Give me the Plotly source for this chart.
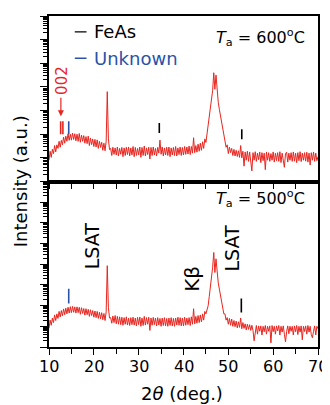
import numpy as np
import plotly.graph_objects as go

# 2-theta sampling grid (deg), 0.25 deg steps from 10 to 70
two_theta = [round(10 + 0.25 * i, 2) for i in range(241)]

# log10 intensity (a.u.), Ta = 600 C
log_i_600 = [
    0.90, 1.28, 1.02, 1.36, 1.18, 1.52, 1.25, 1.55, 1.40, 1.70, 1.45, 1.74,
    1.55, 1.88, 1.62, 1.92, 1.70, 2.02, 1.74, 2.00, 1.75, 2.05, 1.78, 2.02,
    1.72, 2.00, 1.70, 2.03, 1.66, 1.96, 1.70, 1.94, 1.62, 1.90, 1.60, 1.92,
    1.52, 1.84, 1.56, 1.80, 1.48, 1.78, 1.46, 1.76, 1.40, 1.70, 1.44, 1.66,
    1.32, 1.62, 1.30, 1.70, 3.80, 1.80, 1.35, 1.40, 1.10, 1.45, 1.15, 1.42,
    1.12, 1.46, 1.08, 1.40, 1.15, 1.44, 1.05, 1.42, 1.10, 1.45, 1.14, 1.46,
    1.08, 1.42, 1.12, 1.48, 1.05, 1.44, 1.10, 1.40, 1.12, 1.46, 1.02, 1.44,
    1.10, 1.50, 1.08, 1.42, 1.14, 1.45, 0.95, 1.44, 1.10, 1.46, 1.12, 1.40,
    1.08, 1.44, 1.20, 1.75, 1.15, 1.46, 1.08, 1.42, 1.12, 1.45, 1.10, 1.46,
    1.05, 1.42, 1.12, 1.44, 1.10, 1.48, 1.08, 1.42, 1.14, 1.46, 1.10, 1.44,
    1.12, 1.48, 1.15, 1.46, 1.16, 1.50, 1.14, 1.48, 1.20, 1.85, 1.22, 1.52,
    1.24, 1.58, 1.28, 1.62, 1.32, 1.68, 1.40, 1.80, 1.65, 2.00, 2.30, 2.75,
    3.10, 3.45, 3.85, 4.60, 3.90, 4.50, 3.70, 3.35, 3.05, 2.75, 2.45, 2.20,
    1.85, 1.75, 1.45, 1.55, 1.18, 1.45, 1.22, 1.40, 1.10, 1.36, 1.08, 1.32,
    1.06, 1.30, 1.02, 1.52, 1.00, 1.28, 0.65, 1.25, 0.90, 1.28, 0.85, 1.25,
    0.92, 0.45, 1.22, 0.90, 1.26, 0.85, 1.20, 0.92, 1.25, 0.80, 1.22, 0.88,
    1.20, 0.50, 1.25, 0.90, 1.22, 0.85, 1.18, 0.90, 1.25, 0.82, 1.20, 0.88,
    1.22, 0.85, 1.26, 0.80, 1.20, 0.88, 0.60, 1.18, 1.24, 0.82, 1.20, 0.90,
    1.22, 0.85, 1.25, 0.86, 1.20, 0.80, 1.22, 0.88, 1.26, 0.84, 1.20, 0.90,
    1.22, 0.86, 1.24, 0.82, 1.20, 0.70, 1.22, 0.90, 1.25, 0.85, 1.20, 0.88,
    1.05,
]

# log10 intensity (a.u.), Ta = 500 C
log_i_500 = [
    0.90, 1.30, 1.05, 1.40, 1.18, 1.55, 1.28, 1.60, 1.38, 1.72, 1.45, 1.76,
    1.50, 1.84, 1.56, 1.88, 1.60, 1.92, 1.64, 1.95, 1.66, 1.96, 1.68, 1.94,
    1.64, 1.94, 1.66, 1.92, 1.58, 1.90, 1.62, 1.86, 1.54, 1.85, 1.56, 1.82,
    1.48, 1.80, 1.52, 1.76, 1.44, 1.74, 1.42, 1.72, 1.38, 1.68, 1.36, 1.66,
    1.32, 1.62, 1.28, 1.70, 3.93, 1.90, 1.40, 1.42, 1.15, 1.50, 1.18, 1.52,
    1.12, 1.48, 1.10, 1.46, 1.08, 1.44, 1.05, 1.42, 1.10, 1.46, 1.06, 1.40,
    1.04, 1.42, 1.08, 1.44, 1.06, 1.40, 1.02, 1.43, 1.08, 1.45, 1.00, 1.40,
    1.04, 1.48, 1.06, 1.42, 1.10, 1.44, 0.80, 1.40, 1.05, 1.43, 1.08, 1.40,
    1.02, 1.42, 1.06, 1.38, 1.00, 1.40, 1.04, 1.42, 1.02, 1.38, 1.00, 1.40,
    1.04, 1.42, 1.02, 1.38, 1.00, 1.40, 1.06, 1.44, 1.05, 1.42, 1.02, 1.40,
    1.02, 1.44, 1.05, 1.40, 1.08, 1.42, 1.04, 1.46, 1.10, 1.85, 1.12, 1.48,
    1.15, 1.52, 1.18, 1.55, 1.22, 1.60, 1.30, 1.72, 1.60, 1.85, 2.00, 2.45,
    2.87, 3.30, 3.85, 4.57, 3.60, 4.26, 3.50, 3.10, 2.80, 2.50, 2.10, 1.90,
    1.60, 1.60, 1.30, 1.42, 1.10, 1.38, 1.05, 1.35, 1.00, 1.28, 0.98, 1.25,
    0.92, 1.22, 0.95, 1.40, 0.88, 1.18, 0.90, 1.12, 0.82, 1.10, 0.85, 1.08,
    0.80, 1.05, 0.80, 0.30, 0.78, 1.04, 0.62, 1.02, 0.76, 1.02, 0.58, 1.00,
    0.74, 1.04, 0.62, 1.00, 0.76, 1.02, 0.20, 1.04, 0.74, 1.00, 0.62, 1.02,
    0.78, 1.04, 0.58, 1.00, 0.72, 1.02, 0.62, 0.25, 0.74, 1.02, 0.64, 1.00,
    0.76, 1.00, 0.58, 1.02, 0.74, 1.04, 0.60, 1.00, 0.72, 1.02, 0.35, 1.00,
    0.75, 1.02, 0.62, 1.04, 0.72, 1.00, 0.60, 0.45, 0.76, 1.02, 0.58, 1.00,
    0.88,
]

# reflection marker positions (2theta, deg) and their vertical extents (log10)
marks_600_x = [12.6, 13.1, 14.4, 34.6, 53.0]
marks_600_lo = [2.0, 2.0, 2.0, 2.05, 1.79]
marks_600_hi = [2.55, 2.55, 2.55, 2.47, 2.21]
marks_600_col = ["#e8251f", "#e8251f", "#2a52a8", "#000000", "#000000"]

marks_500_x = [14.4, 52.9]
marks_500_lo = [2.10, 1.67]
marks_500_hi = [2.82, 2.34]
marks_500_col = ["#2a52a8", "#000000"]

legend_labels = ["FeAs", "Unknown"]
legend_cols = ["#000000", "#2a52a8"]
legend_y = [6.33, 5.21]

x_ticks = [10, 20, 30, 40, 50, 60, 70]

RED = "#e8251f"
FONT = "DejaVu Sans"

fig = go.Figure()

fig.add_trace(go.Scatter(x=two_theta, y=np.power(10.0, log_i_600), mode="lines",
                         line=dict(color=RED, width=1), xaxis="x2", yaxis="y2"))
fig.add_trace(go.Scatter(x=two_theta, y=np.power(10.0, log_i_500), mode="lines",
                         line=dict(color=RED, width=1), xaxis="x", yaxis="y"))

for x, lo, hi, c in zip(marks_600_x, marks_600_lo, marks_600_hi, marks_600_col):
    fig.add_trace(go.Scatter(x=[x, x], y=[10 ** lo, 10 ** hi], mode="lines",
                             line=dict(color=c, width=1.6), xaxis="x2", yaxis="y2"))
for x, lo, hi, c in zip(marks_500_x, marks_500_lo, marks_500_hi, marks_500_col):
    fig.add_trace(go.Scatter(x=[x, x], y=[10 ** lo, 10 ** hi], mode="lines",
                             line=dict(color=c, width=1.6), xaxis="x", yaxis="y"))

# legend-like entries
for lab, c, ly in zip(legend_labels, legend_cols, legend_y):
    fig.add_trace(go.Scatter(x=[15.75, 18.37], y=[10 ** ly, 10 ** ly], mode="lines",
                             line=dict(color=c, width=1.4), xaxis="x2", yaxis="y2"))
    fig.add_annotation(x=19.5, y=ly, xref="x2", yref="y2", text=lab, showarrow=False,
                       xanchor="left", yanchor="middle", font=dict(family=FONT, size=18, color=c))

minor_600 = [m * 10 ** k for k in range(0, 7) for m in range(2, 10)]
minor_500 = [m * 10 ** k for k in range(0, 8) for m in range(2, 10)]

axis_common = dict(showline=True, linecolor="black", linewidth=1.5, mirror=True,
                   showgrid=False, zeroline=False, tickcolor="black", tickwidth=1.2)

# the page body adds an 8 px offset, so margins are shifted to compensate
fig.update_layout(
    width=330, height=405,
    margin=dict(l=41, r=20, t=6, b=66),
    paper_bgcolor="white", plot_bgcolor="white",
    showlegend=False,
    font=dict(family=FONT, size=16, color="black"),
    xaxis=dict(axis_common, range=[10, 70], tickmode="array", tickvals=x_ticks,
               ticks="outside", ticklen=6, anchor="y", showticklabels=False,
               minor=dict(tickmode="linear", tick0=15, dtick=10, ticks="outside", ticklen=5,
                          tickcolor="black", tickwidth=1.2)),
    xaxis2=dict(axis_common, range=[10, 70], tickmode="linear", tick0=10, dtick=5,
                ticks="outside", ticklen=6, showticklabels=False, anchor="y2"),
    yaxis=dict(axis_common, type="log", range=[0, 8], domain=[0, 0.5], dtick=1,
               ticks="outside", ticklen=7, showticklabels=False,
               minor=dict(tickmode="array", tickvals=minor_500, ticks="outside", ticklen=4,
                          tickcolor="black", tickwidth=1)),
    yaxis2=dict(axis_common, type="log", range=[0, 7], domain=[0.5, 1], dtick=1,
                ticks="outside", ticklen=7, showticklabels=False,
                minor=dict(tickmode="array", tickvals=minor_600, ticks="outside", ticklen=4,
                           tickcolor="black", tickwidth=1)),
)

# x tick labels
for t in x_ticks:
    fig.add_annotation(x=t, y=-0.0586, xref="x", yref="paper", text=str(t), showarrow=False,
                       xanchor="center", yanchor="middle", font=dict(family=FONT, size=16, color="black"))

# panel labels
fig.add_annotation(x=67.6, y=6.1, xref="x2", yref="y2", xanchor="right", yanchor="middle",
                   text="<i>T</i><sub>a</sub> = 600<sup>o</sup>C", showarrow=False,
                   font=dict(family=FONT, size=16, color="black"))
fig.add_annotation(x=67.6, y=7.2, xref="x", yref="y", xanchor="right", yanchor="middle",
                   text="<i>T</i><sub>a</sub> = 500<sup>o</sup>C", showarrow=False,
                   font=dict(family=FONT, size=16, color="black"))

# 002 label and arrow
fig.add_annotation(x=12.75, y=4.27, xref="x2", yref="y2", text="002", textangle=-90,
                   showarrow=False, font=dict(family=FONT, size=15, color=RED))
fig.add_annotation(x=12.65, y=2.76, xref="x2", yref="y2", text="", showarrow=True,
                   ax=0, ay=-20, arrowhead=2, arrowsize=1, arrowwidth=1.2, arrowcolor=RED)

# peak labels in lower panel
fig.add_annotation(x=19.5, y=4.9, xref="x", yref="y", text="LSAT", textangle=-90,
                   showarrow=False, font=dict(family=FONT, size=19, color="black"))
fig.add_annotation(x=41.9, y=3.3, xref="x", yref="y", text="Kβ", textangle=-90,
                   showarrow=False, font=dict(family=FONT, size=20, color="black"))
fig.add_annotation(x=50.8, y=4.8, xref="x", yref="y", text="LSAT", textangle=-90,
                   showarrow=False, font=dict(family=FONT, size=19, color="black"))

# axis titles
fig.add_annotation(x=-0.105, y=0.5, xref="paper", yref="paper", text="Intensity (a.u.)",
                   textangle=-90, showarrow=False, xanchor="center", yanchor="middle",
                   font=dict(family=FONT, size=18, color="black"))
fig.add_annotation(x=0.493, y=-0.141, xref="paper", yref="paper",
                   text="2<i>θ</i> (deg.)", showarrow=False, xanchor="center", yanchor="middle",
                   font=dict(family=FONT, size=18, color="black"))

fig.write_html("out.html")
